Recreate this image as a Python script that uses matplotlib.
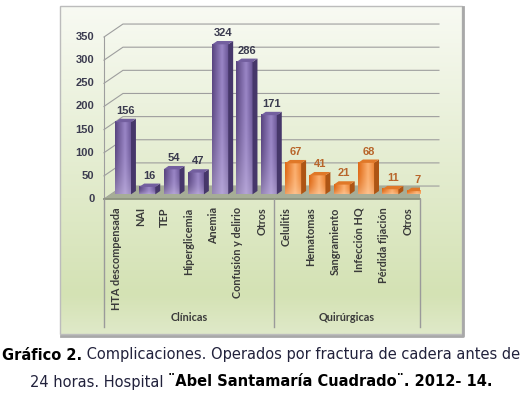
import matplotlib
matplotlib.use('Agg')
import matplotlib.pyplot as plt
import numpy as np
from matplotlib.patches import Polygon, Rectangle
from matplotlib.colors import to_rgb

categories = ['HTA descompensada', 'NAI', 'TEP', 'Hiperglicemia', 'Anemia',
              'Confusión y delirio', 'Otros',
              'Celulitis', 'Hematomas', 'Sangramiento', 'Infección HQ',
              'Pérdida fijación', 'Otros']
values = [156, 16, 54, 47, 324, 286, 171, 67, 41, 21, 68, 11, 7]
groups = ['Clínicas', 'Quirúrgicas']
group_sizes = [7, 6]
yticks = [0, 50, 100, 150, 200, 250, 300, 350]

W, H = 523, 395
LABEL_FONT = ['Lato', 'DejaVu Sans']
NUM_FONT = ['Liberation Sans', 'DejaVu Sans']

# depth of the pseudo 3d box (in data units) and bar placement inside it
DX, DY = 0.78, 28.0
F1, F2 = 0.36, 0.62
BW = 0.66

styles = {
    0: dict(left='#58447f', mid='#9a86c6', right='#665292', bottom='#d0c4e8',
            side='#46376a', top='#735f9f', label='#3a3a4e'),
    1: dict(left='#de6814', mid='#fcb070', right='#ea8130', bottom='#fdd4ae',
            side='#ad5514', top='#e07828', label='#b8652a'),
}


def face_img(st, nx=40, ny=60):
    t = np.linspace(0, 1, nx)
    cl, cm, cr = [np.array(to_rgb(st[k])) for k in ('left', 'mid', 'right')]
    row = np.empty((nx, 3))
    for j, tt in enumerate(t):
        if tt < 0.6:
            a = tt / 0.6
            row[j] = cl * (1 - a) + cm * a
        else:
            a = (tt - 0.6) / 0.4
            row[j] = cm * (1 - a) + cr * a
    s = np.linspace(0, 1, ny)[:, None, None]
    cb = np.array(to_rgb(st['bottom']))
    mix = 0.5 * (1 - s) ** 2.5
    img = row[None, :, :] * (1 - mix) + cb * mix
    return np.clip(img, 0, 1)


fig = plt.figure(figsize=(W / 100, H / 100), dpi=100)

# background panel (pixel coordinates)
bg = fig.add_axes([0, 0, 1, 1])
bg.set_xlim(0, W)
bg.set_ylim(H, 0)
bg.axis('off')
ctop = np.array(to_rgb('#f8faf3'))
cmid = np.array(to_rgb('#d4e2b4'))
cbot = np.array(to_rgb('#dfe9c8'))
n = 200
grad = np.empty((n, 1, 3))
for k in range(n):
    a = k / (n - 1)
    if a < 0.88:
        b = a / 0.88
        grad[k, 0] = ctop * (1 - b) + cmid * b
    else:
        b = (a - 0.88) / 0.12
        grad[k, 0] = cmid * (1 - b) + cbot * b
bg.imshow(grad, extent=[60, 462, 334, 6], aspect='auto', interpolation='bilinear', zorder=0)
bg.add_patch(Rectangle((60, 6), 402, 328, fill=False, ec='#bcbcbc', lw=1, zorder=1))
bg.plot([61, 463, 463], [335.5, 335.5, 7], color='#a8a8a8', lw=2, zorder=1)

# main axes
ax = fig.add_axes([104 / W, (H - 199) / H, 316 / W, 162 / H])
ax.patch.set_alpha(0)
ax.axis('off')
n_cat = len(categories)

# floor
ax.add_patch(Polygon([(0, 0), (n_cat, 0), (n_cat + DX, DY), (DX, DY)],
                     closed=True, fc='#a6ad97', ec='none', zorder=1))
ax.plot([0, n_cat], [0, 0], color='#8c937e', lw=1.3, zorder=2, clip_on=False)

# walls / gridlines
for v in yticks:
    ax.plot([0, DX, n_cat + DX], [v, v + DY, v + DY], color='#9e9e9e', lw=0.8,
            zorder=0.5, clip_on=False)
ax.plot([0, 0], [0, yticks[-1]], color='#9e9e9e', lw=0.8, zorder=0.5, clip_on=False)
for v in yticks:
    ax.annotate(str(v), (0, v), xytext=(-7, 0), textcoords='offset points',
                ha='right', va='center', fontsize=8, fontweight='bold',
                color='#3c3c50', family=NUM_FONT, annotation_clip=False)

# bars
group_of = []
for g, size in enumerate(group_sizes):
    group_of += [g] * size

ddx, ddy = DX * (F2 - F1), DY * (F2 - F1)
for i, v in enumerate(values):
    st = styles[group_of[i]]
    x0 = i + 0.5 - BW / 2 + DX * F1
    x1 = x0 + BW
    y0 = DY * F1
    y1 = y0 + v
    ax.imshow(face_img(st), extent=[x0, x1, y0, y1], origin='lower',
              aspect='auto', interpolation='bilinear', zorder=3)
    ax.add_patch(Polygon([(x1, y0), (x1 + ddx, y0 + ddy), (x1 + ddx, y1 + ddy), (x1, y1)],
                         closed=True, fc=st['side'], ec='none', zorder=3))
    ax.add_patch(Polygon([(x0, y1), (x1, y1), (x1 + ddx, y1 + ddy), (x0 + ddx, y1 + ddy)],
                         closed=True, fc=st['top'], ec='none', zorder=3))
    ax.annotate(str(v), (i + 0.5 + DX * (F1 + F2) / 2, v + DY * F2),
                xytext=(0, 2), textcoords='offset points', ha='center', va='bottom',
                fontsize=8, fontweight='bold', color=st['label'], family=NUM_FONT,
                annotation_clip=False, zorder=4)

ax.set_xlim(0, n_cat)
ax.set_ylim(0, 350)

# category axis
for i, name in enumerate(categories):
    ax.annotate(name, (i + 0.5, 0), xytext=(0, -6), textcoords='offset points',
                rotation=90, ha='center', va='top', fontsize=7.8, fontweight='bold',
                color='#3a3a3a', family=LABEL_FONT, annotation_clip=False)

ybox = -(327 - 199) / 0.463
edges = np.concatenate([[0], np.cumsum(group_sizes)])
for e in edges:
    ax.plot([e, e], [0, ybox], color='#9a9a9a', lw=1, clip_on=False)
for g, name in enumerate(groups):
    xc = (edges[g] + edges[g + 1]) / 2
    ax.annotate(name, (xc, ybox), xytext=(0, 3), textcoords='offset points',
                ha='center', va='bottom', fontsize=7.8, fontweight='bold',
                color='#3a3a3a', family=LABEL_FONT, annotation_clip=False)

# caption
renderer = fig.canvas.get_renderer()


def caption_line(y, parts, fs=10.5):
    texts = []
    for s, wgt, col in parts:
        t = bg.text(0, y, s, fontsize=fs, fontweight=wgt, color=col,
                    ha='left', va='center', family='DejaVu Sans')
        texts.append(t)
    widths = [t.get_window_extent(renderer).width for t in texts]
    x = 261 - sum(widths) / 2
    for t, w in zip(texts, widths):
        t.set_x(x)
        x += w


caption_line(355, [('Gráfico 2.', 'bold', 'black'),
                   (' Complicaciones. Operados por fractura de cadera antes de', 'normal', '#22223c')])
caption_line(382, [('24 horas. Hospital ', 'normal', '#22223c'),
                   ('¨Abel Santamaría Cuadrado¨. 2012- 14.', 'bold', 'black')])

fig.savefig('out.png', dpi=100)
